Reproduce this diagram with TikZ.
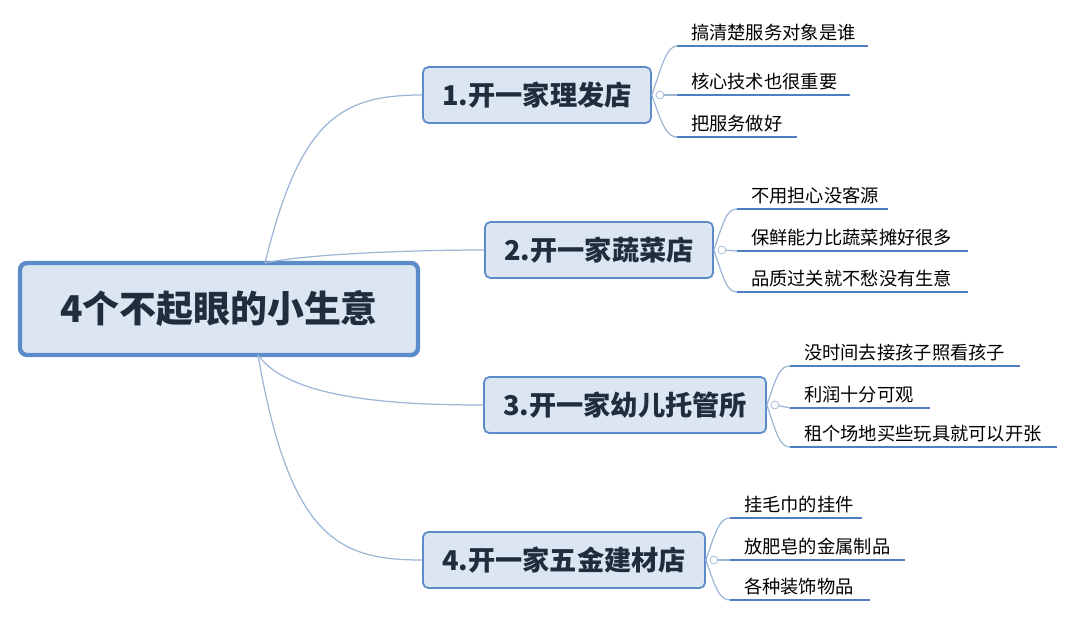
\documentclass[tikz,border=0pt]{standalone}
\usepackage{fontspec}
\newfontfamily\cjk{Noto Sans CJK SC}
\definecolor{boxfill}{HTML}{DCE6F2}
\definecolor{boxline}{HTML}{5B8BC9}
\definecolor{linkline}{HTML}{9DB6D6}
\definecolor{leafline}{HTML}{4F7FC0}
\definecolor{textcol}{HTML}{1F2D3D}
\tikzset{
  rootbox/.style={draw=boxline,line width=2.5pt,fill=boxfill,rounded corners=4pt,minimum width=398*0.02cm,minimum height=92*0.02cm,font=\cjk\bfseries\fontsize{21}{24}\selectfont,text=textcol},
  branchbox/.style={draw=boxline,line width=1pt,fill=boxfill,rounded corners=3pt,minimum height=56*0.02cm,font=\cjk\bfseries\fontsize{15.5}{18}\selectfont,text=textcol},
  leaftext/.style={anchor=south west,inner sep=1pt,font=\cjk\fontsize{10.4}{12}\selectfont},
  link/.style={draw=linkline,line width=0.7pt},
  underline/.style={draw=leafline,line width=1.5pt},
  knob/.style={circle,draw=linkline,fill=white,inner sep=0pt,minimum size=8*0.02cm}
}
\begin{document}
\begin{tikzpicture}[x=0.02cm,y=-0.02cm]
\useasboundingbox (0,0) rectangle (1077,622);
%=========== root ===========================
\node[rootbox] (root) at (219,309) {4个不起眼的小生意};
\coordinate (rt) at (265,263);
\coordinate (rb) at (258,355);
%=========== branches, from top to bottom ===========================
\node[branchbox,minimum width=228*0.02cm] (b1) at (537,95) {1.开一家理发店};
\node[branchbox,minimum width=228*0.02cm] (b2) at (599,250) {2.开一家蔬菜店};
\node[branchbox,minimum width=282*0.02cm] (b3) at (625,405) {3.开一家幼儿托管所};
\node[branchbox,minimum width=282*0.02cm] (b4) at (564,560) {4.开一家五金建材店};
\draw[link] (rt) .. controls (300,120) and (340,95) .. (b1.west);
\draw[link] (rt) .. controls (300,255) and (400,250) .. (b2.west);
\draw[link] (rb) .. controls (290,400) and (400,405) .. (b3.west);
\draw[link] (rb) .. controls (290,540) and (340,560) .. (b4.west);
%=========== leaves ===========================
\foreach \b/\x/\ya/\yb/\yc/\la/\lb/\lc/\ta/\tb/\tc in {
  1/677/46/95/137/868/850/797/搞清楚服务对象是谁/核心技术也很重要/把服务做好,
  2/737/209/251/292/888/968/968/不用担心没客源/保鲜能力比蔬菜摊好很多/品质过关就不愁没有生意,
  3/790/366/408/447/1020/930/1057/没时间去接孩子照看孩子/利润十分可观/租个场地买些玩具就可以开张,
  4/730/518/560/600/862/905/870/挂毛巾的挂件/放肥皂的金属制品/各种装饰物品}{
  \coordinate (k\b) at ([xshift=8*0.02cm]b\b.east);
  \coordinate (la\b) at (\x,\ya);
  \coordinate (lb\b) at (\x,\yb);
  \coordinate (lc\b) at (\x,\yc);
  \draw[link] (k\b) -- (lb\b);
  \draw[link] (k\b) ++(-8,0) .. controls +(10,-30) and +(-10,0) .. (la\b);
  \draw[link] (k\b) ++(-8,0) .. controls +(10,30) and +(-10,0) .. (lc\b);
  \draw[underline] (la\b) -- (\la,\ya);
  \draw[underline] (lb\b) -- (\lb,\yb);
  \draw[underline] (lc\b) -- (\lc,\yc);
  \node[leaftext] (ta\b) at ([xshift=12*0.02cm,yshift=3*0.02cm]la\b) {\ta};
  \node[leaftext] (tb\b) at ([xshift=12*0.02cm,yshift=3*0.02cm]lb\b) {\tb};
  \node[leaftext] (tc\b) at ([xshift=12*0.02cm,yshift=3*0.02cm]lc\b) {\tc};
  \node[knob] at (b\b.east -| k\b) {};
}
\end{tikzpicture}
\end{document}
